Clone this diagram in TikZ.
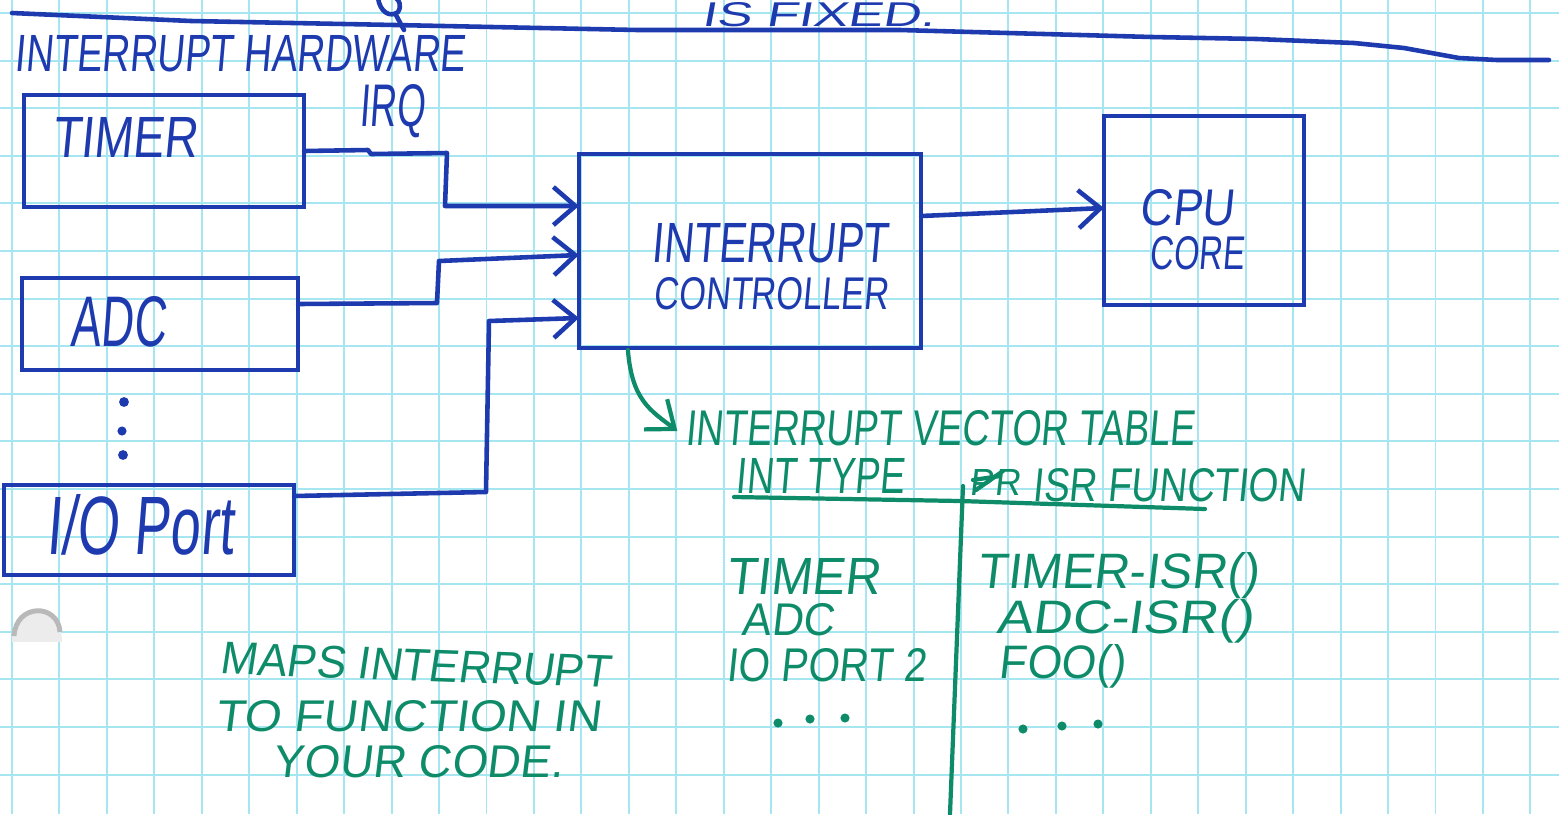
\documentclass[tikz,border=0pt]{standalone}
\usepackage{fontspec}
\usepackage{graphicx}
\usetikzlibrary{arrows.meta,calc}
\newfontfamily\hand[FakeSlant=0.12]{Liberation Sans}
\definecolor{inkb}{RGB}{30,58,175}
\definecolor{inkg}{RGB}{14,140,105}
\definecolor{gridc}{RGB}{165,230,240}
\newcommand{\hw}[3]{\resizebox{#1mm}{#2mm}{\hand #3}}
\begin{document}
\begin{tikzpicture}[x=0.01cm,y=-0.01cm,
  pen/.style={draw=inkb,line width=1.3pt,line cap=round,line join=round},
  gpen/.style={draw=inkg,line width=1.2pt,line cap=round,line join=round},
  blk/.style={draw=inkb,line width=1.3pt,rectangle,inner sep=0pt,outer sep=0pt},
  lbl/.style={inner sep=0pt,outer sep=0pt,text=inkb},
  glbl/.style={inner sep=0pt,outer sep=0pt,text=inkg},
  tip/.style={-{Straight Barb[length=2.2mm,width=3.8mm,line width=1.3pt]}},
  gtip/.style={-{Straight Barb[length=2.4mm,width=3.8mm,line width=1.2pt]}}
]
\useasboundingbox (0,0) rectangle (1559,814);
\fill[white] (0,0) rectangle (1559,814);
% grid paper
\foreach \i in {0,...,32} \draw[gridc,line width=0.55pt] ({12+47.45*\i},0) -- ({12+47.45*\i},814);
\foreach \j in {0,...,16} \draw[gridc,line width=0.55pt] (0,{13+47.6*\j}) -- (1559,{13+47.6*\j});
% punch hole
\fill[gray!15] (12,642) .. controls (12,598) and (62,598) .. (62,642) -- cycle;
\draw[gray!55,line width=1.4pt] (14,636) .. controls (16,603) and (58,603) .. (60,632);
% top cut-off text and rule
\node[lbl] (fixed) at (818,15) {\hw{23.3}{2.4}{IS FIXED.}};
\draw[pen] (378,-2) .. controls (380,12) and (390,18) .. (398,12) .. controls (402,6) and (399,0) .. (396,-2);
\draw[pen] (396,15) -- (404,30);
\draw[pen] (12,13) -- (191,21) -- (395,25) -- (638,30) -- (900,30) -- (1152,37) -- (1257,39) -- (1354,43) -- (1404,48) -- (1459,58) -- (1497,60) -- (1549,60);
\node[lbl] (hwtitle) at (240,54) {\hw{45.0}{3.6}{INTERRUPT HARDWARE}};
% blocks
\node[blk,minimum width=2.80cm,minimum height=1.12cm] (timer) at (164,151) {};
\node[blk,minimum width=2.76cm,minimum height=0.92cm] (adc) at (160,324) {};
\node[blk,minimum width=2.90cm,minimum height=0.90cm] (io) at (149,530) {};
\node[blk,minimum width=3.42cm,minimum height=1.94cm] (ctrl) at (750,251) {};
\node[blk,minimum width=2.00cm,minimum height=1.89cm] (cpu) at (1204,210.5) {};
\node[lbl] (timerlbl) at (125,137) {\hw{14.5}{4.0}{TIMER}};
\node[lbl] (adclbl) at (118,322) {\hw{9.5}{5.0}{ADC}};
\node[lbl] (iolbl) at (140,525) {\hw{18.6}{6.0}{I/O Port}};
\node[lbl] (ctrl1) at (770,243) {\hw{23.6}{3.9}{INTERRUPT}};
\node[lbl] (ctrl2) at (771,294) {\hw{23.4}{3.2}{CONTROLLER}};
\node[lbl] (cpu1) at (1187,208) {\hw{9.4}{3.6}{CPU}};
\node[lbl] (cpu2) at (1197,253) {\hw{9.4}{3.3}{CORE}};
\node[lbl] (irq) at (392,111) {\hw{6.5}{4.2}{IRQ}};
% vertical ellipsis
\fill[inkb] (124,402) circle (1.4pt);
\fill[inkb] (122,431) circle (1.3pt);
\fill[inkb] (123,455) circle (1.4pt);
% connectors
\coordinate (y206) at (0,206);
\coordinate (y255) at (0,255);
\coordinate (y318) at (0,318);
\coordinate (y304) at (0,304);
\coordinate (y496) at (0,496);
\coordinate (y216) at (0,216);
\coordinate (y208) at (0,208);
\draw[pen,tip] (timer.east) -- (368,150) -- (371,154) -- (447,153) -- (445,206) -- (ctrl.west |- y206);
\draw[pen,tip] (adc.east |- y304) -- (437,303) -- (439,261) -- (ctrl.west |- y255);
\draw[pen,tip] (io.east |- y496) -- (486,492) -- (489,321) -- (ctrl.west |- y318);
\draw[pen,tip] (ctrl.east |- y216) -- (cpu.west |- y208);
% vector table
\node[glbl] (vtt) at (940,428) {\hw{50.9}{3.5}{INTERRUPT VECTOR TABLE}};
\coordinate (gstart) at ($(ctrl.south west)+(49,2)$);
\coordinate (gend) at ($(vtt.west)+(-8,3)$);
\draw[gpen,gtip] (gstart) .. controls (632,400) and (650,410) .. (gend);
\node[glbl] (inttype) at (820,476) {\hw{16.8}{3.5}{INT TYPE}};
\draw[gpen] (734,497) -- (960,501) -- (1205,509);
\draw[gpen] (963,486) -- (950,814);
\node[glbl] (scrib) at (995,482) {\hw{5.0}{2.6}{PR}};
\draw[gpen] (973,480) -- (1000,476);
\draw[gpen] (976,490) -- (1003,471);
\node[glbl] (isrfn) at (1169,485) {\hw{27.3}{3.3}{ISR FUNCTION}};
\node[glbl] (t1) at (803,576) {\hw{15.3}{3.6}{TIMER}};
\node[glbl] (t2) at (788,620) {\hw{9.2}{3.2}{ADC}};
\node[glbl] (t3) at (826,665) {\hw{19.9}{3.3}{IO PORT 2}};
\node[glbl] (f1) at (1118,576) {\hw{28.1}{3.6}{TIMER-ISR()}};
\node[glbl] (f2) at (1125,621) {\hw{25.7}{3.4}{ADC-ISR()}};
\node[glbl] (f3) at (1062,666) {\hw{12.6}{3.4}{FOO()}};
% horizontal ellipses in the table
\foreach \x/\y in {778/723, 810/719, 845/718, 1023/729, 1062/726, 1098/724}
  \fill[inkg] (\x,\y) circle (1.3pt);
% note
\node[glbl,rotate=-2] (n1) at (415,665) {\hw{39.0}{3.2}{MAPS INTERRUPT}};
\node[glbl] (n2) at (408,716) {\hw{38.5}{3.1}{TO FUNCTION IN}};
\node[glbl] (n3) at (418,762) {\hw{29.0}{3.2}{YOUR CODE.}};
\end{tikzpicture}
\end{document}
